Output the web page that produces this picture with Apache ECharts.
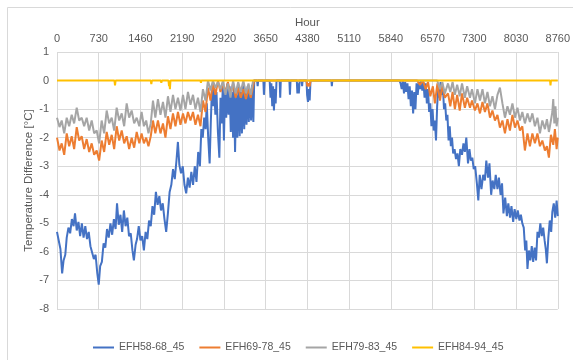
<!DOCTYPE html>
<html>
<head>
<meta charset="utf-8">
<script src="https://cdn.jsdelivr.net/npm/echarts@6/dist/echarts.min.js"></script>
<style>html,body{margin:0;padding:0;background:#fff;}#c{width:573px;height:360px;}</style>
</head>
<body>
<div id="c"></div>
<script>
const xTicks = [0,730,1460,2190,2920,3650,4380,5110,5840,6570,7300,8030,8760];
const seriesNames = ['EFH58-68_45','EFH69-78_45','EFH79-83_45','EFH84-94_45'];

const efh58 = [[0,-5.3],[30,-5.6],[60,-5.9],[90,-6.75],[115,-6.3],[145,-6.1],[170,-5.5],[200,-5.15],[230,-5.35],[260,-4.85],[290,-5.1],[315,-4.65],[345,-5.25],[375,-4.95],[405,-5.45],[435,-5.0],[465,-5.5],[495,-5.1],[525,-5.55],[555,-5.3],[585,-5.8],[615,-5.75],[645,-6.25],[675,-6.1],[705,-6.75],[730,-7.15],[755,-6.5],[785,-6.35],[815,-5.7],[845,-5.85],[875,-5.2],[905,-5.5],[935,-5.0],[965,-5.4],[995,-4.85],[1025,-5.2],[1050,-4.3],[1080,-5.05],[1110,-4.7],[1140,-5.3],[1170,-4.55],[1200,-5.1],[1230,-4.8],[1260,-5.45],[1290,-5.35],[1320,-5.95],[1345,-6.3],[1375,-5.75],[1400,-5.55],[1430,-5.1],[1460,-5.6],[1490,-5.45],[1520,-5.95],[1550,-5.3],[1580,-5.55],[1610,-4.9],[1640,-5.1],[1670,-4.4],[1700,-4.7],[1730,-3.9],[1760,-4.35],[1790,-4.05],[1820,-4.55],[1850,-4.3],[1880,-4.85],[1910,-5.3],[1940,-4.65],[1970,-3.9],[2000,-3.65],[2030,-3.1],[2060,-3.45],[2090,-2.8],[2115,-2.15],[2140,-2.95],[2170,-3.25],[2200,-3.0],[2230,-3.65],[2260,-3.95],[2290,-3.4],[2320,-3.75],[2350,-3.2],[2380,-3.65],[2410,-3.0],[2440,-3.55],[2470,-2.5],[2500,-3.0],[2525,-1.7],[2550,-2.0],[2575,-1.3],[2600,-1.7],[2620,-0.8],[2645,-2.0],[2670,-2.9],[2690,-1.5],[2710,-0.3],[2730,-0.9],[2750,-0.25],[2770,-1.2],[2790,-0.4],[2815,-1.8],[2840,-2.7],[2860,-0.6],[2880,-1.5],[2900,-0.2],[2920,-2.1],[2940,-0.3],[2960,-1.3],[2980,-0.1],[3000,-1.2],[3020,-0.2],[3040,-1.8],[3060,-0.4],[3080,-2.0],[3095,-0.3],[3115,-2.5],[3135,-0.5],[3155,-2.0],[3175,-0.2],[3195,-1.95],[3215,-0.4],[3235,-1.85],[3255,-0.1],[3275,-1.7],[3295,-0.3],[3315,-1.55],[3335,-0.2],[3355,-1.45],[3375,-0.3],[3395,-1.4],[3415,-0.15],[3435,-1.45],[3450,0],[3500,0],[3510,-0.2],[3520,0],[3610,0],[3620,-0.5],[3632,0],[3720,0],[3735,-0.6],[3750,-0.1],[3765,-0.9],[3780,-0.2],[3795,-1.05],[3810,-0.3],[3825,-0.8],[3840,0],[3895,0],[3905,-0.6],[3915,0],[4065,0],[4075,-0.5],[4085,0],[4195,0],[4205,-0.45],[4215,-0.1],[4230,-0.45],[4245,0],[4280,0],[4288,-0.2],[4296,0],[4365,0],[4375,-0.5],[4390,-0.75],[4405,-0.3],[4420,-0.7],[4435,0],[4800,0],[4808,-0.2],[4816,0],[5990,0],[6010,-0.1],[6030,-0.3],[6050,0],[6070,-0.45],[6090,-0.05],[6110,-0.4],[6130,-0.1],[6150,-0.65],[6170,-0.2],[6190,-0.9],[6210,-0.35],[6230,-1.15],[6250,-0.4],[6270,-1.0],[6290,-0.1],[6310,-0.5],[6330,-0.05],[6350,-0.3],[6370,0],[6390,-0.35],[6410,-0.05],[6430,-0.6],[6450,-0.1],[6470,-0.8],[6490,-0.3],[6510,-1.1],[6530,-0.8],[6550,-1.6],[6570,-1.0],[6590,-1.75],[6610,-1.4],[6630,-2.1],[6650,-0.9],[6670,-0.2],[6690,-0.6],[6710,-0.05],[6730,-0.5],[6750,-0.2],[6770,-1.0],[6790,-0.8],[6810,-1.4],[6830,-1.2],[6850,-2.1],[6870,-1.6],[6890,-2.3],[6910,-2.0],[6930,-2.55],[6955,-2.4],[6980,-2.75],[7005,-2.55],[7030,-3.0],[7055,-2.4],[7085,-2.6],[7110,-2.2],[7135,-2.5],[7160,-2.0],[7190,-2.9],[7215,-2.4],[7240,-2.8],[7265,-2.7],[7290,-3.1],[7315,-3.0],[7345,-3.6],[7370,-4.2],[7395,-3.3],[7425,-3.8],[7455,-3.3],[7485,-3.5],[7510,-2.8],[7540,-3.4],[7565,-2.9],[7595,-4.0],[7620,-3.5],[7650,-3.8],[7675,-3.3],[7705,-3.8],[7730,-3.4],[7760,-4.0],[7785,-3.6],[7810,-4.65],[7840,-4.1],[7870,-4.75],[7895,-4.3],[7925,-4.8],[7950,-4.4],[7980,-4.95],[8005,-4.5],[8035,-4.85],[8060,-4.55],[8090,-4.9],[8115,-4.7],[8140,-5.0],[8165,-5.15],[8190,-5.95],[8210,-5.6],[8230,-6.6],[8255,-5.95],[8280,-6.3],[8305,-5.8],[8330,-6.35],[8355,-5.85],[8380,-6.3],[8405,-5.3],[8430,-5.5],[8455,-5.0],[8480,-5.45],[8505,-5.15],[8530,-5.6],[8550,-5.9],[8570,-6.4],[8595,-5.5],[8620,-4.9],[8645,-5.3],[8665,-4.6],[8690,-4.3],[8715,-4.8],[8740,-4.2],[8760,-4.75]];

const efh69 = [[0,-2.0],[44,-2.45],[82,-2.2],[126,-2.6],[170,-1.85],[213,-2.3],[257,-1.95],[300,-2.4],[345,-1.63],[388,-2.1],[432,-1.95],[475,-2.4],[519,-2.05],[563,-2.5],[607,-2.2],[650,-2.6],[694,-2.45],[737,-2.8],[781,-2.1],[825,-2.5],[869,-1.8],[913,-2.25],[957,-1.9],[1000,-2.4],[1044,-1.6],[1088,-2.1],[1132,-1.75],[1175,-2.2],[1219,-1.95],[1262,-2.4],[1306,-2.0],[1350,-2.35],[1394,-1.8],[1440,-2.2],[1480,-1.85],[1520,-2.2],[1560,-2.0],[1600,-2.3],[1640,-1.95],[1679,-1.4],[1720,-1.85],[1766,-1.4],[1810,-1.85],[1854,-1.5],[1897,-2.0],[1941,-1.25],[1985,-1.7],[2029,-1.15],[2072,-1.6],[2116,-1.1],[2160,-1.55],[2204,-1.15],[2247,-1.5],[2291,-1.1],[2335,-1.4],[2379,-1.1],[2422,-1.55],[2466,-1.2],[2510,-1.6],[2553,-0.7],[2597,-1.1],[2641,-0.25],[2685,-0.7],[2728,-0.1],[2772,-0.5],[2816,0],[2860,-0.4],[2903,-0.1],[2947,-0.4],[2990,-0.05],[3035,-0.5],[3080,-0.1],[3125,-0.6],[3170,-0.25],[3215,-0.6],[3260,-0.3],[3305,-0.65],[3350,-0.3],[3390,-0.6],[3430,-0.2],[3450,0],[4365,0],[4380,-0.2],[4400,-0.1],[4420,-0.2],[4435,0],[6300,0],[6350,-0.15],[6400,0],[6450,-0.3],[6490,-0.05],[6530,-0.55],[6575,-0.2],[6610,-0.8],[6655,-0.1],[6700,-0.7],[6740,-0.15],[6785,-0.6],[6840,-0.45],[6880,-0.9],[6920,-0.4],[6960,-1.0],[7000,-0.5],[7045,-1.05],[7085,-0.45],[7135,-0.95],[7175,-0.6],[7224,-0.95],[7260,-0.7],[7311,-1.05],[7355,-0.8],[7399,-1.15],[7443,-0.75],[7486,-1.1],[7530,-0.8],[7574,-1.3],[7617,-1.05],[7661,-1.4],[7705,-1.2],[7748,-1.65],[7792,-1.4],[7836,-1.85],[7880,-1.35],[7923,-1.75],[7967,-1.2],[8011,-1.65],[8055,-1.4],[8098,-1.75],[8140,-1.6],[8185,-2.45],[8230,-1.85],[8273,-2.3],[8316,-1.85],[8360,-2.2],[8404,-1.85],[8448,-2.3],[8490,-2.1],[8535,-2.45],[8570,-2.3],[8605,-2.7],[8640,-1.9],[8681,-2.25],[8710,-1.7],[8740,-2.4],[8760,-2.0]];

const efh79 = [[0,-1.3],[44,-1.63],[82,-1.4],[126,-1.85],[170,-1.3],[213,-1.6],[257,-1.2],[300,-1.5],[345,-0.95],[388,-1.4],[432,-1.3],[475,-1.6],[519,-1.3],[563,-1.75],[607,-1.4],[650,-1.85],[694,-1.75],[737,-2.2],[781,-1.4],[825,-1.85],[869,-1.05],[913,-1.5],[957,-1.3],[1000,-1.75],[1044,-0.95],[1088,-1.4],[1132,-1.15],[1175,-1.6],[1219,-0.8],[1262,-1.3],[1306,-1.05],[1350,-1.5],[1394,-1.3],[1440,-1.6],[1480,-1.1],[1520,-1.6],[1560,-1.4],[1600,-1.85],[1640,-1.5],[1679,-0.7],[1720,-1.3],[1766,-0.65],[1810,-1.2],[1854,-0.75],[1897,-1.3],[1941,-0.55],[1985,-1.1],[2029,-0.5],[2072,-1.0],[2116,-0.6],[2160,-1.05],[2204,-0.5],[2247,-1.0],[2291,-0.4],[2335,-0.85],[2379,-0.5],[2422,-1.0],[2466,-0.6],[2510,-1.1],[2553,-0.3],[2597,-0.7],[2641,0],[2685,-0.35],[2728,0],[2772,-0.25],[2816,-0.05],[2860,-0.3],[2903,0],[2947,-0.5],[2990,-0.1],[3035,-0.6],[3080,0],[3125,-0.45],[3170,-0.05],[3215,-0.4],[3260,0],[3305,-0.45],[3350,-0.1],[3390,-0.5],[3430,0],[6650,0],[6700,-0.3],[6740,-0.05],[6785,-0.45],[6840,-0.1],[6880,-0.4],[6920,-0.05],[6960,-0.5],[7000,-0.15],[7045,-0.55],[7085,-0.1],[7135,-0.6],[7175,-0.2],[7224,-0.6],[7260,-0.3],[7311,-0.8],[7355,-0.3],[7399,-0.7],[7443,-0.3],[7486,-0.8],[7530,-0.4],[7574,-0.9],[7617,-0.55],[7661,-1.0],[7705,-0.5],[7748,-0.25],[7792,-0.8],[7836,-1.3],[7880,-0.9],[7923,-1.2],[7967,-0.8],[8011,-1.3],[8055,-0.95],[8098,-1.4],[8140,-1.1],[8185,-1.5],[8230,-1.15],[8273,-1.45],[8316,-1.15],[8360,-1.6],[8404,-1.3],[8448,-1.85],[8490,-1.4],[8535,-1.7],[8570,-1.35],[8605,-1.8],[8640,-1.4],[8665,-1.1],[8681,-0.65],[8700,-1.5],[8720,-0.9],[8740,-1.6],[8760,-1.3]];

const efh84 = [[0,0],[1005,0],[1015,-0.17],[1025,0],[1640,0],[1650,-0.12],[1660,0],[1815,0],[1825,-0.08],[1835,0],[1950,0],[1960,-0.2],[1967,-0.05],[1975,-0.3],[1985,0],[2510,0],[2518,-0.08],[2526,0],[8625,0],[8633,-0.17],[8641,0],[8760,0]];

const colors = ['#4472C4','#ED7D31','#A5A5A5','#FFC000'];
const allData = [efh58, efh69, efh79, efh84];

const chart = echarts.init(document.getElementById('c'), null, {renderer:'canvas'});
const font = 'Liberation Sans, Arial, sans-serif';
chart.setOption({
  animation: false,
  backgroundColor: '#fff',
  graphic: [{type:'rect', shape:{x:7.5,y:7.5,width:600,height:400}, style:{fill:'none', stroke:'#d9d9d9', lineWidth:1}, silent:true}],
  grid: {left:57, right:15, top:52, bottom:51, containLabel:false},
  xAxis: {
    type:'value', position:'top', min:0, max:8760, interval:730,
    name:'Hour', nameLocation:'middle', nameGap:23, nameMoveOverlap:false,
    nameTextStyle:{color:'#595959', fontSize:11.5, fontFamily:font},
    axisLine:{show:false}, axisTick:{show:false},
    axisLabel:{color:'#595959', fontSize:11, fontFamily:font, margin:8,
      formatter: v => xTicks.includes(v) ? String(v) : ''},
    splitLine:{show:true, lineStyle:{color:'#d9d9d9', width:1}}
  },
  yAxis: {
    type:'value', min:-8, max:1, interval:1,
    name:'Temperature Difference [°C]', nameLocation:'middle', nameGap:22, nameMoveOverlap:false,
    nameTextStyle:{color:'#595959', fontSize:11.5, fontFamily:font},
    axisLine:{show:false}, axisTick:{show:false},
    axisLabel:{color:'#595959', fontSize:11, fontFamily:font, margin:8},
    splitLine:{show:true, lineStyle:{color:'#d9d9d9', width:1}}
  },
  legend: {
    left:93, top:342, padding:0, itemWidth:21, itemHeight:2, itemGap:15, icon:'rect',
    textStyle:{color:'#595959', fontSize:10.5, fontFamily:font},
    data: seriesNames
  },
  series: allData.map((d,i) => ({
    name: seriesNames[i], type:'line', data:d, showSymbol:false, symbol:'none',
    lineStyle:{color:colors[i], width:2},
    itemStyle:{color:colors[i]},
    z: 2+i
  }))
});
</script>
</body>
</html>
